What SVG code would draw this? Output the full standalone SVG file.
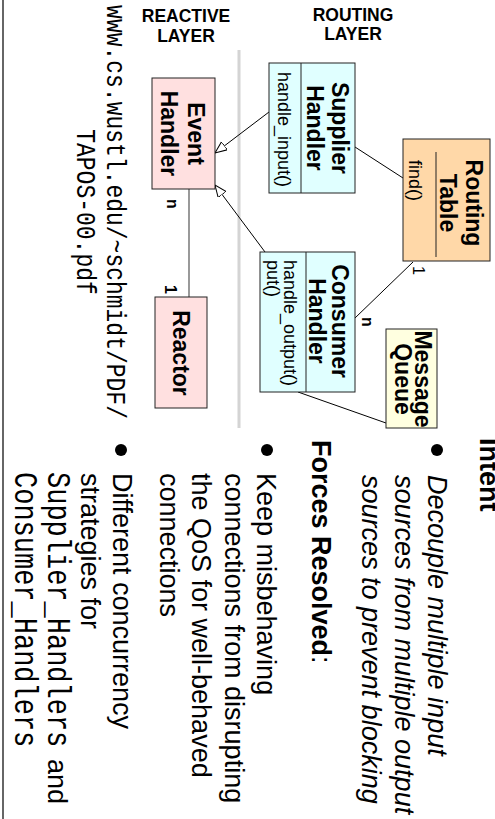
<svg xmlns="http://www.w3.org/2000/svg" width="495" height="819" viewBox="0 0 495 819">
  <style>
    .box { stroke: #222; stroke-width: 1; }
    .pink { fill: #ffe0e0; }
    .cyan { fill: #e0ffff; }
    .peach { fill: #ffd8a8; }
    .cream { fill: #ffffe0; }
    .div { stroke: #222; stroke-width: 1; }
    .title { font-family: "Liberation Sans", Arial, sans-serif; font-weight: bold; font-size: 23px; fill: #000; text-anchor: middle; }
    .meth { font-family: "Liberation Sans", Arial, sans-serif; font-size: 18px; fill: #000; }
    .card { font-family: "Liberation Sans", Arial, sans-serif; font-size: 16px; fill: #000; }
    .hdr { font-family: "Liberation Sans", Arial, sans-serif; font-weight: bold; font-size: 17.5px; fill: #000; text-anchor: middle; }
    .body { font-family: "Liberation Sans", Arial, sans-serif; font-size: 27px; fill: #000; }
    .mono { font-family: "Liberation Mono", "Courier New", monospace; }
    .conn { stroke: #000; stroke-width: 1; fill: none; }
  </style>
  <defs>
    <marker id="hollow" markerUnits="userSpaceOnUse" markerWidth="14" markerHeight="12" refX="12" refY="5" orient="auto">
      <path d="M0,0 L12,5 L0,10 Z" fill="#fff" stroke="#000" stroke-width="1"/>
    </marker>
  </defs>

  <!-- slide frame edge -->
  <line x1="3" y1="0" x2="3" y2="819" stroke="#333" stroke-width="1.5"/>

  <!-- column headers (upright) -->
  <g id="hdr-reactive">
    <text class="hdr" x="186" y="22">REACTIVE</text>
    <text class="hdr" x="186" y="42">LAYER</text>
  </g>
  <g id="hdr-routing">
    <text class="hdr" x="353" y="21">ROUTING</text>
    <text class="hdr" x="353" y="40">LAYER</text>
  </g>

  <!-- slide content laid out landscape, turned a quarter clockwise -->
  <g transform="translate(495,0) rotate(90)">
    <!-- layer separator -->
    <line x1="50" y1="256" x2="428" y2="256" stroke="#d4d4d4" stroke-width="3"/>

    <g id="connectors">
      <line class="conn" x1="112" y1="226" x2="153" y2="280" marker-end="url(#hollow)"/>
      <line class="conn" x1="252" y1="230" x2="185" y2="280" marker-end="url(#hollow)"/>
      <line class="conn" x1="147" y1="140" x2="178" y2="92"/>
      <line class="conn" x1="262" y1="82" x2="318" y2="140"/>
      <line class="conn" x1="392" y1="197" x2="423" y2="109"/>
      <line x1="189" y1="306" x2="297" y2="306" stroke="#808080" stroke-width="1.6"/>
      <text class="card" x="199" y="328" font-weight="bold" font-size="18">n</text>
      <text class="card" x="285" y="330" font-weight="bold">1</text>
      <text class="card" x="266" y="82">1</text>
      <text class="card" x="317" y="133" font-weight="bold">n</text>
    </g>

    <g id="event-handler">
      <rect class="box pink" x="78" y="280" width="111" height="63"/>
      <text class="title" x="133.5" y="307" font-size="22">Event</text>
      <text class="title" x="133.5" y="334" font-size="22">Handler</text>
    </g>

    <g id="supplier-handler">
      <rect class="box cyan" x="63" y="140" width="130" height="86"/>
      <line class="div" x1="63" y1="194" x2="193" y2="194"/>
      <text class="title" x="128" y="163">Supplier</text>
      <text class="title" x="128" y="188">Handler</text>
      <text class="meth" x="72" y="217">handle_input()</text>
    </g>

    <g id="routing-table">
      <rect class="box peach" x="139" y="5" width="122" height="87"/>
      <line class="div" x1="152" y1="59" x2="257" y2="59"/>
      <text class="title" x="203" y="29">Routing</text>
      <text class="title" x="203" y="55">Table</text>
      <text class="meth" x="160" y="86">find()</text>
    </g>

    <g id="consumer-handler">
      <rect class="box cyan" x="252" y="140" width="140" height="95"/>
      <line class="div" x1="252" y1="189" x2="392" y2="189"/>
      <text class="title" x="321" y="163">Consumer</text>
      <text class="title" x="321" y="186">Handler</text>
      <text class="meth" x="260" y="211">handle_output()</text>
      <text class="meth" x="260" y="228">put()</text>
    </g>

    <g id="message-queue">
      <rect class="box cream" x="329" y="58" width="99" height="51"/>
      <text class="title" x="379" y="80" font-size="17">Message</text>
      <text class="title" x="379" y="100" font-size="17">Queue</text>
    </g>

    <g id="reactor">
      <rect class="box pink" x="297" y="288" width="111" height="52"/>
      <text class="title" x="353" y="322">Reactor</text>
    </g>

    <!-- source reference -->
    <g id="source-url" class="mono" font-size="23" fill="#000" text-anchor="middle">
      <text transform="translate(212,388) scale(1,1.2)">www.cs.wustl.edu/~schmidt/PDF/</text>
      <text transform="translate(212,418) scale(1,1.2)">TAPOS-00.pdf</text>
    </g>

    <!-- pattern description -->
    <g id="description" class="body">
      <text x="438" y="15" font-weight="bold">Intent</text>
      <circle cx="450" cy="58" r="6" fill="#000"/>
      <text x="475" y="67" font-style="italic">Decouple multiple input</text>
      <text x="475" y="100" font-style="italic">sources from multiple output</text>
      <text x="475" y="133" font-style="italic">sources to prevent blocking</text>

      <text x="440" y="183"><tspan font-weight="bold">Forces Resolved</tspan>:</text>
      <circle cx="450" cy="228" r="6" fill="#000"/>
      <text x="473" y="238">Keep misbehaving</text>
      <text x="473" y="270">connections from disrupting</text>
      <text x="473" y="303">the QoS for well-behaved</text>
      <text x="473" y="335">connections</text>

      <circle cx="450" cy="374" r="6" fill="#000"/>
      <text x="473" y="382">Different concurrency</text>
      <text x="473" y="414">strategies for</text>
      <text class="mono" transform="translate(472,447) scale(1,1.25)">Supplier_Handlers</text>
      <text x="759" y="447">and</text>
      <text class="mono" transform="translate(472,480) scale(1,1.25)">Consumer_Handlers</text>
    </g>
  </g>
</svg>
